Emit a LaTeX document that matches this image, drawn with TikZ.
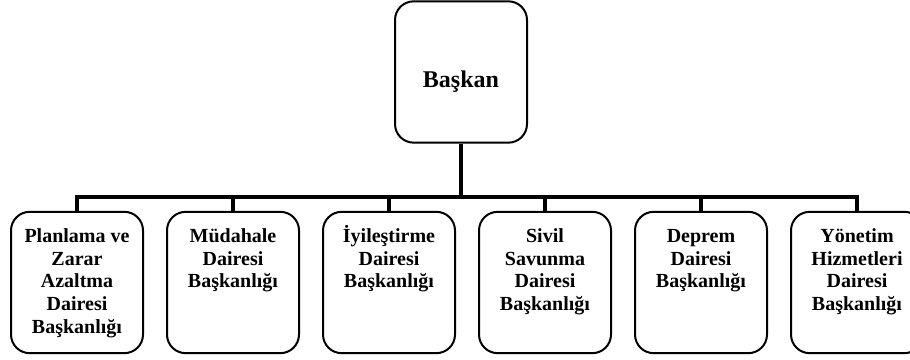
\documentclass[tikz,border=0pt]{standalone}
\usepackage{fontspec}
\setmainfont{Liberation Serif}
\usetikzlibrary{positioning}
\newcommand*{\capstrut}{\rule{0pt}{13pt}}

\begin{document}
\begin{tikzpicture}[x=0.75pt, y=0.75pt, line width=1.5pt,
    unit/.style={draw=black, rounded corners=14pt, minimum width=99pt, minimum height=106pt, inner sep=0pt},
    unitText/.style={font=\bfseries\fontsize{15}{17}\selectfont, align=center, inner sep=0pt},
    link/.style={line width=3pt}]
    \useasboundingbox (0,0) rectangle (910,360);

    \node[unit] (head) at (461,288) {};
    \node[font=\bfseries\fontsize{18}{20}\selectfont] (headLabel) at ([yshift=-7.5pt]head.center) {Başkan};

    \node[unit] (d1) at (77,77.5) {};
    \node[unit, right=16.5pt of d1] (d2) {};
    \node[unit, right=16.5pt of d2] (d3) {};
    \node[unit, right=16.5pt of d3] (d4) {};
    \node[unit, right=16.5pt of d4] (d5) {};
    \node[unit, right=16.5pt of d5] (d6) {};

    \node[unitText, below=10pt of d1.north] (d1Label) {\capstrut Planlama ve\\Zarar\\Azaltma\\Dairesi\\Başkanlığı};
    \node[unitText, below=10pt of d2.north] (d2Label) {\capstrut Müdahale\\Dairesi\\Başkanlığı};
    \node[unitText, below=10pt of d3.north] (d3Label) {\capstrut İyileştirme\\Dairesi\\Başkanlığı};
    \node[unitText, below=10pt of d4.north] (d4Label) {\capstrut Sivil\\Savunma\\Dairesi\\Başkanlığı};
    \node[unitText, below=10pt of d5.north] (d5Label) {\capstrut Deprem\\Dairesi\\Başkanlığı};
    \node[unitText, below=10pt of d6.north] (d6Label) {\capstrut Yönetim\\Hizmetleri\\Dairesi\\Başkanlığı};

    \coordinate (bar) at (461,163);
    \draw[link] (head.south) -- (bar);
    \draw[link] (d1.north) |- (bar) -| (d6.north);
    \foreach \i in {2,...,5}
        \draw[link] (d\i.north) -- (d\i.north |- bar);
\end{tikzpicture}
\end{document}
